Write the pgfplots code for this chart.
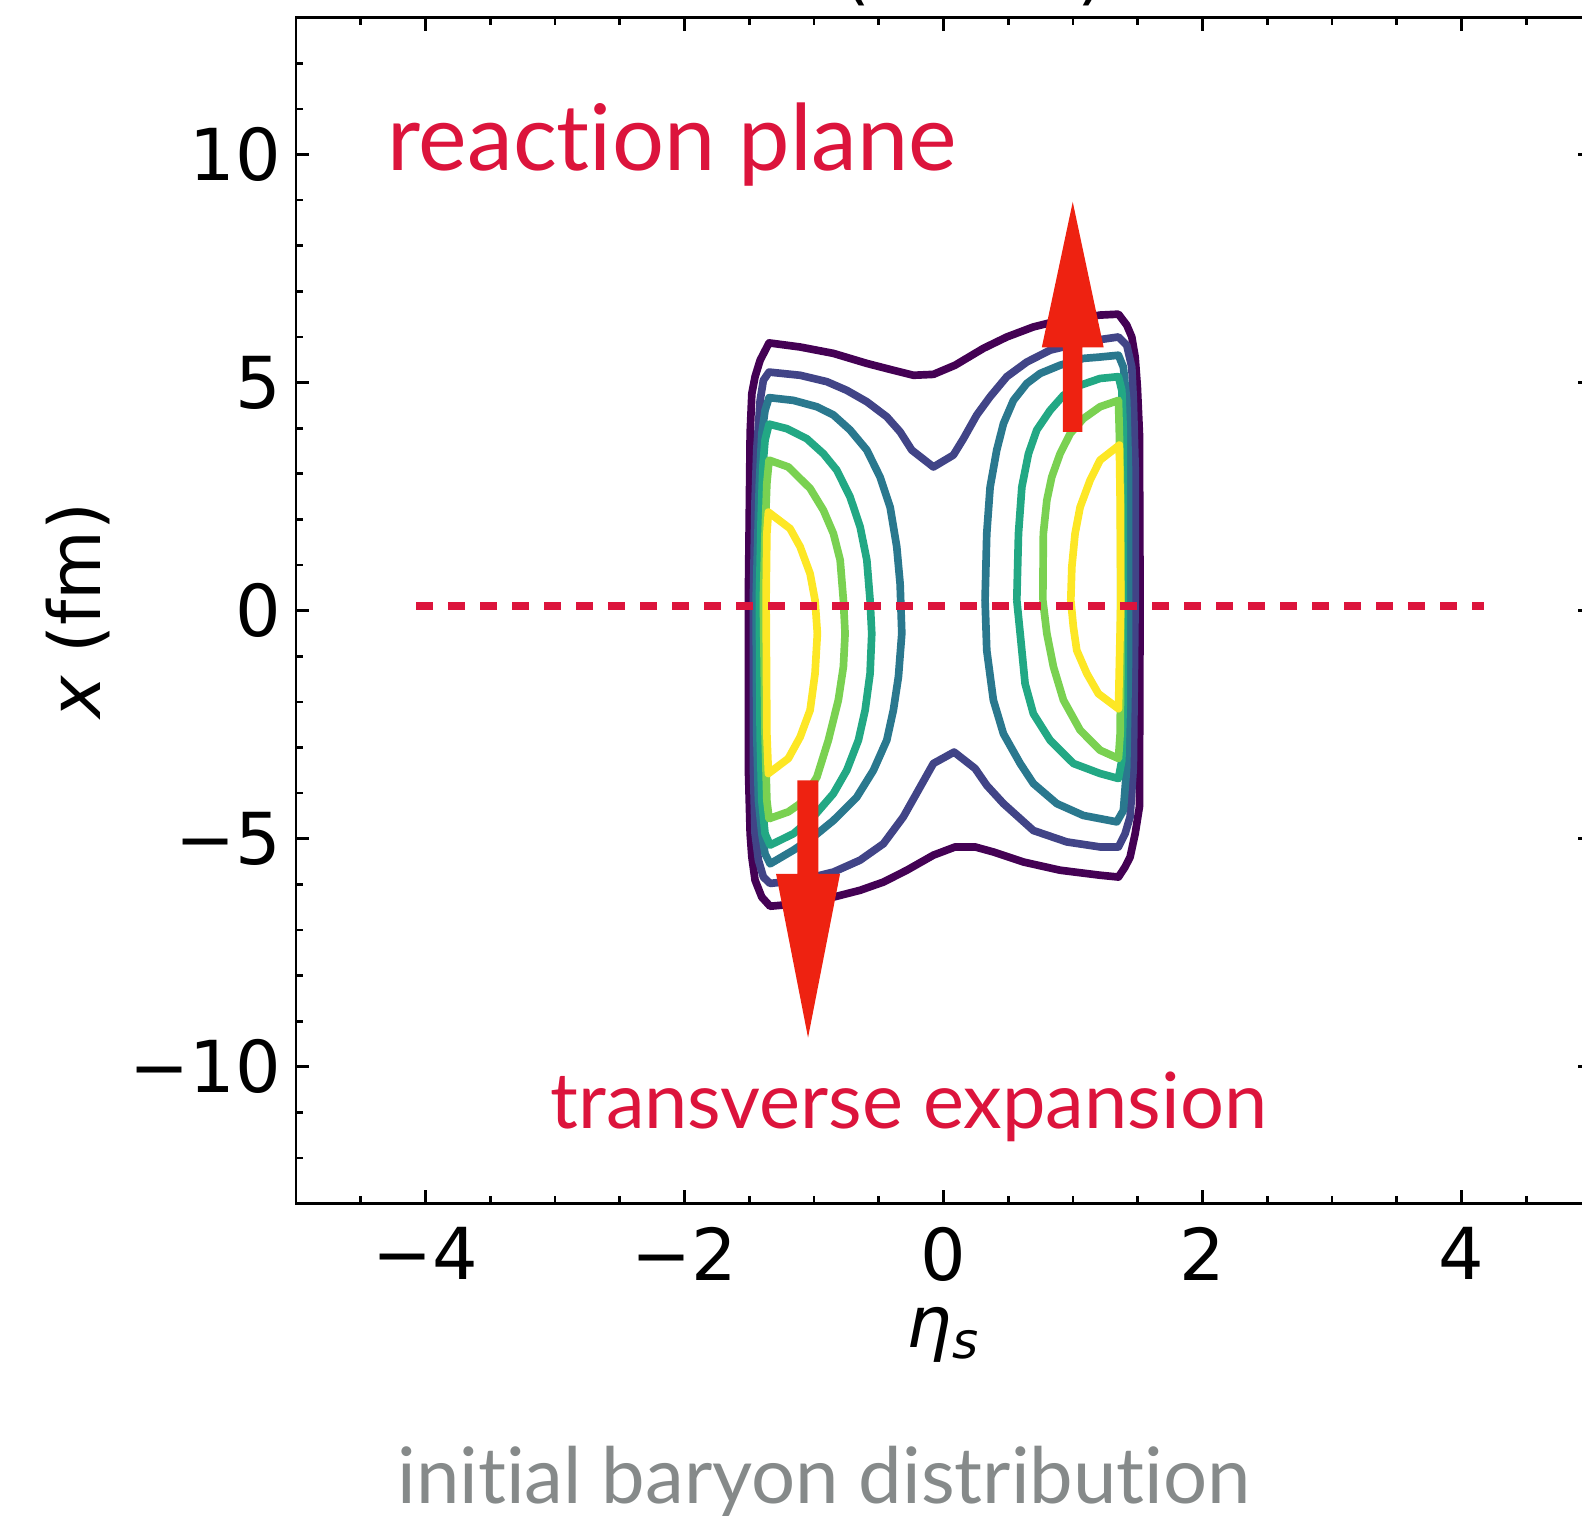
\documentclass[border=0pt]{standalone}
\usepackage{fontspec}
\setmainfont{DejaVu Sans}
\newfontfamily\annfont[Ligatures=NoCommon]{Lato}
\usepackage{pgfplots}
\pgfplotsset{compat=1.18}

\definecolor{v0}{HTML}{440154}
\definecolor{v1}{HTML}{414487}
\definecolor{v2}{HTML}{2A788E}
\definecolor{v3}{HTML}{22A884}
\definecolor{v4}{HTML}{7AD151}
\definecolor{v5}{HTML}{FDE725}
\definecolor{crim}{HTML}{DC143C}
\definecolor{arr}{HTML}{EE2211}
\definecolor{gtxt}{HTML}{868A8A}
\newcommand\lblfont{\fontsize{21.5pt}{26pt}\selectfont}

\begin{document}
\begin{tikzpicture}
\begin{axis}[
    scale only axis,
    width=388.5pt, height=355.8pt,
    xmin=-5, xmax=5, ymin=-13, ymax=13,
    clip=false,
    axis line style={line width=0.8pt},
    tick align=inside,
    tick style={black, line width=0.8pt},
    major tick length=4pt, minor tick length=2.2pt,
    xtick={-4,-2,0,2,4},
    xticklabels={−4,−2,0,2,4},
    minor xtick={-5,-4.5,...,5},
    ytick={-10,-5,0,5,10},
    yticklabels={−10,−5,0,5,10},
    minor ytick={-13,-12,...,13},
    ticklabel style={font=\lblfont},
    yticklabel style={inner sep=0pt, xshift=-4.3pt},
    xticklabel style={inner sep=0pt, yshift=-6.9pt},
    xlabel={\itshape η\textsubscript{\itshape s}},
    ylabel={\itshape x\upshape\ (fm)},
    label style={font=\lblfont},
    xlabel style={at={(axis description cs:0.5,-0.1214)}, anchor=base},
    ylabel style={at={(axis description cs:-0.1506,0.5)}, anchor=base},
    every axis plot/.append style={line width=2.3pt, line join=round},
]
% level 0
\addplot[v0] coordinates {(-1.507,0.23) (-1.493,3.89) (-1.48,4.76) (-1.455,5.13) (-1.416,5.49) (-1.347,5.87) (-1.107,5.78) (-0.850,5.64) (-0.592,5.42) (-0.387,5.27) (-0.232,5.16) (-0.078,5.18) (0.089,5.38) (0.308,5.75) (0.489,6.00) (0.694,6.22) (0.849,6.33) (1.209,6.48) (1.351,6.50) (1.415,6.26) (1.454,6.00) (1.480,5.56) (1.497,4.91) (1.513,3.88) (1.518,0.23) (1.513,-4.30) (1.480,-4.89) (1.441,-5.40) (1.402,-5.62) (1.351,-5.84) (1.209,-5.80) (0.900,-5.69) (0.617,-5.51) (0.385,-5.29) (0.244,-5.18) (0.090,-5.18) (-0.078,-5.36) (-0.283,-5.69) (-0.464,-5.95) (-0.644,-6.13) (-0.850,-6.28) (-1.107,-6.42) (-1.339,-6.48) (-1.403,-6.28) (-1.455,-5.91) (-1.480,-5.40) (-1.493,-4.89) (-1.507,-3.43) (-1.507,0.23)};
% level 1
\addplot[v1] coordinates {(-1.468,0.23) (-1.455,2.42) (-1.442,3.52) (-1.416,4.61) (-1.391,5.05) (-1.347,5.23) (-1.107,5.16) (-0.901,5.02) (-0.747,4.83) (-0.592,4.58) (-0.438,4.25) (-0.335,3.92) (-0.245,3.52) (-0.078,3.15) (0.076,3.41) (0.154,3.77) (0.257,4.29) (0.360,4.69) (0.489,5.13) (0.643,5.45) (0.823,5.71) (1.080,5.89) (1.351,6.00) (1.415,5.82) (1.454,5.34) (1.466,4.61) (1.480,3.15) (1.480,0.23) (1.466,-3.43) (1.441,-4.52) (1.402,-4.89) (1.351,-5.18) (1.209,-5.18) (0.952,-5.07) (0.694,-4.82) (0.463,-4.23) (0.334,-3.83) (0.244,-3.46) (0.082,-3.10) (-0.078,-3.35) (-0.181,-3.87) (-0.310,-4.52) (-0.464,-5.11) (-0.644,-5.47) (-0.850,-5.73) (-1.107,-5.91) (-1.339,-5.98) (-1.391,-5.84) (-1.429,-5.47) (-1.455,-4.89) (-1.468,-3.43) (-1.468,0.23)};
% level 2
\addplot[v2] coordinates {(-1.447,0.23) (-1.422,2.79) (-1.403,3.88) (-1.378,4.39) (-1.347,4.67) (-1.159,4.61) (-0.978,4.47) (-0.850,4.29) (-0.721,3.96) (-0.592,3.52) (-0.490,2.93) (-0.412,2.27) (-0.361,1.40) (-0.335,0.59) (-0.322,-0.50) (-0.348,-1.45) (-0.387,-2.18) (-0.438,-2.84) (-0.541,-3.50) (-0.670,-4.09) (-0.850,-4.60) (-1.005,-4.96) (-1.159,-5.25) (-1.339,-5.55) (-1.378,-5.33) (-1.403,-4.89) (-1.429,-4.16) (-1.442,-2.70) (-1.447,0.23)};
\addplot[v2] coordinates {(0.321,0.23) (0.334,1.69) (0.360,2.71) (0.411,3.52) (0.463,4.10) (0.540,4.61) (0.643,4.98) (0.746,5.20) (0.900,5.38) (1.080,5.53) (1.209,5.56) (1.351,5.60) (1.389,5.34) (1.415,4.61) (1.428,3.15) (1.428,-1.23) (1.415,-3.43) (1.389,-4.38) (1.338,-4.63) (1.080,-4.49) (0.875,-4.23) (0.694,-3.79) (0.592,-3.35) (0.463,-2.70) (0.385,-1.96) (0.334,-0.87) (0.321,0.23)};
% level 3
\addplot[v3] coordinates {(-1.422,0.23) (-1.408,2.05) (-1.395,3.15) (-1.378,3.74) (-1.347,4.09) (-1.210,3.99) (-1.056,3.77) (-0.927,3.44) (-0.824,3.08) (-0.721,2.49) (-0.644,1.84) (-0.592,1.11) (-0.567,0.23) (-0.554,-0.50) (-0.567,-1.38) (-0.605,-2.18) (-0.657,-2.84) (-0.747,-3.50) (-0.850,-4.01) (-1.005,-4.52) (-1.159,-4.89) (-1.339,-5.14) (-1.378,-4.89) (-1.403,-4.16) (-1.416,-2.70) (-1.422,0.23)};
\addplot[v3] coordinates {(0.566,0.23) (0.579,1.69) (0.605,2.71) (0.656,3.44) (0.720,3.96) (0.823,4.39) (0.926,4.72) (1.055,4.94) (1.209,5.09) (1.351,5.13) (1.377,4.83) (1.389,3.88) (1.389,0.23) (1.389,-1.96) (1.377,-3.28) (1.351,-3.68) (1.209,-3.57) (1.003,-3.35) (0.823,-2.84) (0.694,-2.26) (0.630,-1.60) (0.592,-0.50) (0.566,0.23)};
% level 4
\addplot[v4] coordinates {(-1.391,0.23) (-1.378,1.69) (-1.364,2.79) (-1.347,3.30) (-1.198,3.15) (-1.030,2.68) (-0.927,2.20) (-0.850,1.69) (-0.798,1.11) (-0.773,0.23) (-0.760,-0.50) (-0.773,-1.23) (-0.812,-1.96) (-0.889,-2.84) (-0.978,-3.65) (-1.107,-4.23) (-1.198,-4.41) (-1.347,-4.56) (-1.364,-4.16) (-1.378,-2.70) (-1.391,0.23)};
\addplot[v4] coordinates {(0.767,0.23) (0.771,1.69) (0.798,2.42) (0.836,2.93) (0.900,3.44) (0.978,3.88) (1.080,4.21) (1.209,4.47) (1.351,4.61) (1.358,3.88) (1.369,2.42) (1.369,-1.23) (1.364,-2.70) (1.351,-3.24) (1.209,-3.06) (1.055,-2.62) (0.926,-1.96) (0.849,-1.23) (0.798,-0.50) (0.767,0.23)};
% level 5
\addplot[v5] coordinates {(-1.370,0.23) (-1.364,1.69) (-1.352,2.16) (-1.185,1.80) (-1.107,1.40) (-1.030,0.81) (-0.992,0.23) (-0.974,-0.50) (-0.992,-1.38) (-1.030,-2.18) (-1.107,-2.77) (-1.198,-3.24) (-1.352,-3.57) (-1.364,-2.70) (-1.370,0.23)};
\addplot[v5] coordinates {(0.983,0.23) (0.991,0.96) (1.016,1.69) (1.055,2.27) (1.132,2.86) (1.209,3.30) (1.358,3.63) (1.364,2.42) (1.369,0.23) (1.358,-1.23) (1.351,-2.15) (1.196,-1.82) (1.107,-1.38) (1.029,-0.87) (1.003,-0.36) (0.983,0.23)};

% reaction plane line
\addplot[crim, line width=2.4pt, dash pattern=on 5pt off 4.6pt] coordinates {(-4.07,0.1) (4.17,0.1)};

% expansion arrows
\addplot[draw=none, fill=arr, line width=0pt] coordinates {(0.921,3.92) (1.073,3.92) (1.073,5.77) (1.237,5.77) (0.998,8.96) (0.759,5.77) (0.921,5.77) (0.921,3.92)};
\addplot[draw=none, fill=arr, line width=0pt] coordinates {(-1.128,-3.72) (-0.966,-3.72) (-0.966,-5.77) (-0.799,-5.77) (-1.046,-9.36) (-1.293,-5.77) (-1.128,-5.77) (-1.128,-3.72)};

\node[anchor=base west, inner sep=0pt, text=crim] at (axis cs:-4.30,9.64) {\resizebox{171pt}{!}{\annfont reaction plane}};
\node[anchor=base west, inner sep=0pt, text=crim] at (axis cs:-3.04,-11.35) {\resizebox{215pt}{!}{\annfont transverse expansion}};
% title, cut off at the top edge
\node[anchor=south, inner sep=0pt, font=\lblfont] at (axis cs:-0.675,13.25) {(};
\node[anchor=south, inner sep=0pt, font=\lblfont] at (axis cs:1.146,13.25) {)};
\end{axis}
\node[anchor=base west, inner sep=0pt, text=gtxt] at (30.2pt,-90pt) {\resizebox{256pt}{!}{\annfont initial baryon distribution}};
\pgfresetboundingbox
\useasboundingbox (-88.8pt,-93.6pt) rectangle (385.8pt,361.1pt);
\end{tikzpicture}
\end{document}
